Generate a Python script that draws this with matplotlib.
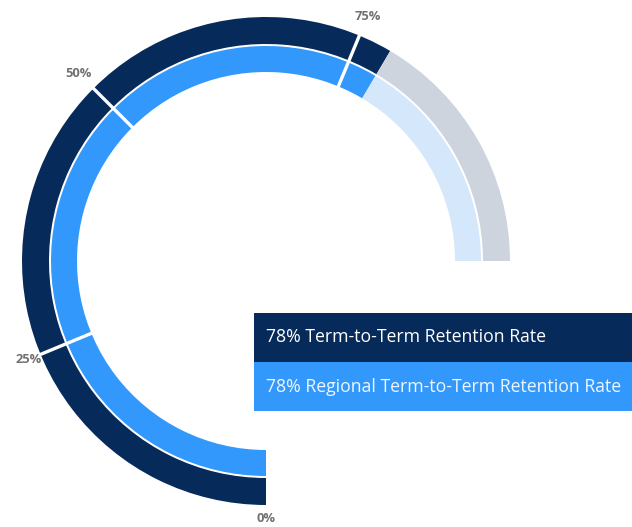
import numpy as np
import matplotlib
matplotlib.use("Agg")
import matplotlib.pyplot as plt
from matplotlib.patches import Wedge, Rectangle

# ---- data ----
series_names = ["Term-to-Term Retention Rate", "Regional Term-to-Term Retention Rate"]
series_values = [78, 78]
tick_values = [0, 25, 50, 75]
tick_labels = ["0%", "25%", "50%", "75%"]

plt.rcParams['font.family'] = ['Open Sans', 'DejaVu Sans']

W, H = 632, 527
fig = plt.figure(figsize=(W / 100, H / 100), dpi=100)
ax = fig.add_axes([0, 0, 1, 1])
ax.set_xlim(0, W)
ax.set_ylim(0, H)
ax.set_aspect('equal')
ax.axis('off')

def py(y):
    return H - y

cx, cy = 266, py(261)
SWEEP = 270.0

def ang(v):
    return -90.0 - SWEEP * v / 100.0

rings = [  # (outer radius, width, filled colour, remainder colour)
    (244, 27, "#062a5a", "#cdd4dd"),
    (215, 26, "#3398fb", "#d5e7fa"),
]

for (r, w, fc, rc), v in zip(rings, series_values):
    ax.add_patch(Wedge((cx, cy), r, ang(v), ang(0), width=w, facecolor=fc, edgecolor='none'))
    ax.add_patch(Wedge((cx, cy), r, ang(100), ang(v), width=w, facecolor=rc, edgecolor='none'))

# white separators at tick positions
for t in tick_values[1:]:
    a = np.deg2rad(ang(t))
    ax.plot([cx + 185 * np.cos(a), cx + 248 * np.cos(a)],
            [cy + 185 * np.sin(a), cy + 248 * np.sin(a)],
            color='white', lw=2.4, solid_capstyle='butt')

# tick labels
for t, lab in zip(tick_values, tick_labels):
    a = np.deg2rad(ang(t))
    rr = 265 if np.sin(a) > 0 else 257
    ax.text(cx + rr * np.cos(a), cy + rr * np.sin(a), lab, ha='center', va='center',
            fontsize=9.3, fontweight='bold', color='#717171')

# legend boxes
box_x, box_w = 254, W - 254
boxes = [(313, 362, "#062a5a", "white"), (362, 411, "#3398fb", "#eef6ff")]
for (y0, y1, bc, tc), name, v in zip(boxes, series_names, series_values):
    ax.add_patch(Rectangle((box_x, py(y1)), box_w, y1 - y0, facecolor=bc, edgecolor='none'))
    ax.text(266, py((y0 + y1) / 2), f"{v}% {name}", ha='left', va='center',
            fontsize=12.7, color=tc)

fig.savefig("out.png", dpi=100)
